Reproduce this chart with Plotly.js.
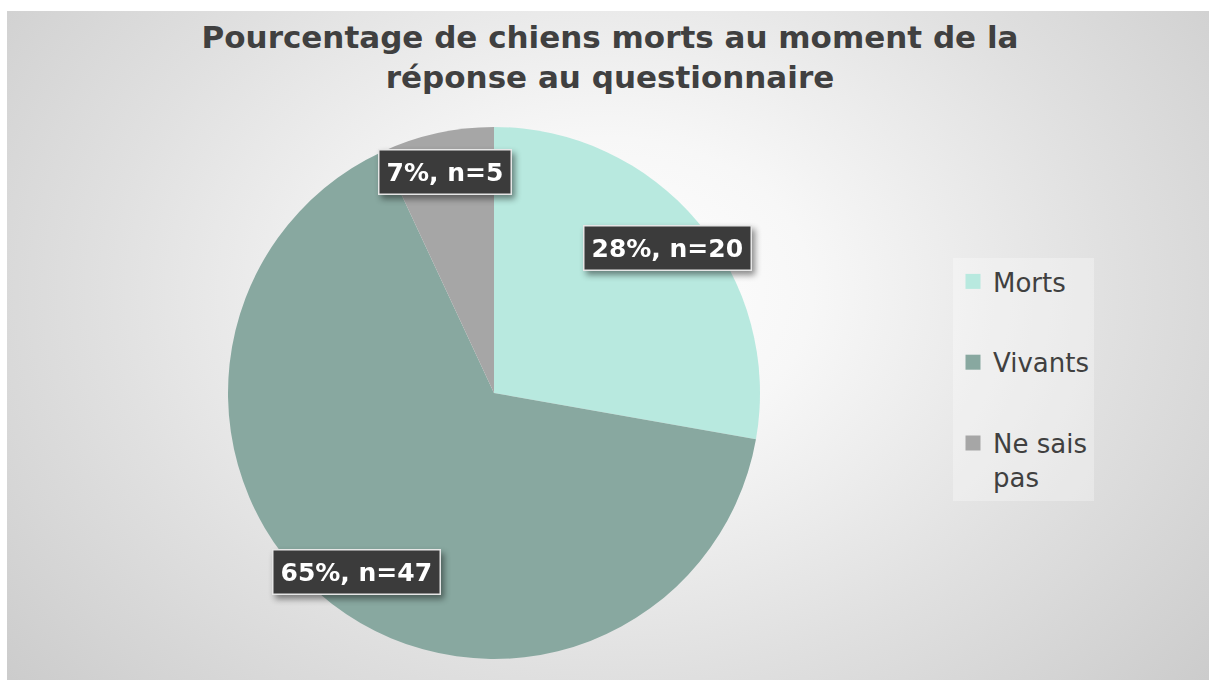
<!DOCTYPE html>
<html>
<head>
<meta charset="utf-8">
<script src="https://cdn.plot.ly/plotly-3.0.1.min.js"></script>
<style>
  html, body { margin: 0; padding: 0; background: #ffffff; }
  #bg { position: absolute; left: 7px; top: 11px; width: 1202px; height: 669px;
        background: radial-gradient(ellipse 68% 92% at 50% 42%, #ffffff 0%, #f7f7f7 25%, #e0e0e0 62%, #cacaca 100%); }
  #chart { position: absolute; left: 0; top: 0; width: 1209px; height: 680px; }
  .annotation-text-g { filter: drop-shadow(3px 4px 3px rgba(0,0,0,0.45)); }
</style>
</head>
<body>
<div id="bg"></div>
<div id="chart"></div>
<script>
const categories = ['Morts', 'Vivants', 'Ne sais pas'];
const legendLabels = ['Morts', 'Vivants', 'Ne sais<br>pas'];
const counts = [20, 47, 5];
const colors = ['#b8e9df', '#88a8a0', '#a6a6a6'];
const titleText = '<b>Pourcentage de chiens morts au moment de la<br>réponse au questionnaire</b>';

const total = counts.reduce((a, b) => a + b, 0);
const labelTexts = counts.map(c => '<b>' + Math.round(100 * c / total) + '%, n=' + c + '</b>');

const W = 1209, H = 680;
const pieDomain = { x: [228 / W, 760 / W], y: [21 / H, 553 / H] };

const traces = [{
  type: 'pie',
  labels: categories,
  values: counts,
  marker: { colors: colors, line: { width: 0 } },
  sort: false,
  direction: 'clockwise',
  rotation: 0,
  textinfo: 'none',
  hoverinfo: 'label+value+percent',
  showlegend: false,
  domain: pieDomain
}];

categories.forEach((cat, i) => {
  traces.push({
    type: 'scatter',
    mode: 'markers',
    x: [null], y: [null],
    name: legendLabels[i],
    legendgroup: 'g' + i,
    marker: { symbol: 'square', size: 15, color: colors[i] },
    showlegend: true,
    hoverinfo: 'skip'
  });
});

const layout = {
  width: W, height: H,
  margin: { l: 0, r: 0, t: 0, b: 0 },
  paper_bgcolor: 'rgba(0,0,0,0)',
  plot_bgcolor: 'rgba(0,0,0,0)',
  xaxis: { visible: false, fixedrange: true },
  yaxis: { visible: false, fixedrange: true },
  title: {
    text: titleText,
    font: { family: 'DejaVu Sans, Liberation Sans, Arial, sans-serif', size: 31, color: '#404040' },
    x: 610 / W, xanchor: 'center',
    y: 1 - 48 / H, yanchor: 'top', yref: 'paper'
  },
  showlegend: true,
  legend: {
    x: 953 / W, xanchor: 'left',
    y: 1 - 258 / H, yanchor: 'top',
    bgcolor: 'rgba(255,255,255,0.3)',
    borderwidth: 0,
    font: { family: 'DejaVu Sans, Liberation Sans, Arial, sans-serif', size: 26, color: '#404040' },
    tracegroupgap: 44,
    valign: 'top',
    itemclick: false, itemdoubleclick: false,
    entrywidth: 160, entrywidthmode: 'pixels'
  }
};

Plotly.newPlot('chart', traces, layout, { displayModeBar: false, staticPlot: true }).then(gd => {
  const fl = gd._fullLayout;
  const sz = fl._size;
  let cd0 = gd.calcdata && gd.calcdata[0] && gd.calcdata[0][0];
  let cx, cy, r;
  if (cd0 && cd0.cx !== undefined && cd0.r !== undefined) {
    cx = cd0.cx; cy = cd0.cy; r = cd0.r;
  } else {
    const dw = sz.w * (pieDomain.x[1] - pieDomain.x[0]);
    const dh = sz.h * (pieDomain.y[1] - pieDomain.y[0]);
    r = Math.min(dw, dh) / 2;
    cx = sz.l + sz.w * (pieDomain.x[0] + pieDomain.x[1]) / 2;
    cy = sz.t + sz.h * (1 - (pieDomain.y[0] + pieDomain.y[1]) / 2);
  }
  const k = 0.85;
  let cum = 0;
  const annotations = counts.map((c, i) => {
    const frac = (cum + c / 2) / total;
    cum += c;
    const th = 2 * Math.PI * frac;
    const px = cx + k * r * Math.sin(th);
    const py = cy - k * r * Math.cos(th);
    return {
      xref: 'paper', yref: 'paper',
      x: (px - sz.l) / sz.w, y: 1 - (py - sz.t) / sz.h,
      xanchor: 'center', yanchor: 'middle',
      text: labelTexts[i],
      showarrow: false,
      font: { family: 'DejaVu Sans, Liberation Sans, Arial, sans-serif', size: 25, color: '#ffffff' },
      bgcolor: '#3b3b3b',
      bordercolor: '#e6e6e6',
      borderwidth: 1.5,
      borderpad: 7
    };
  });
  return Plotly.relayout(gd, { annotations: annotations });
});
</script>
</body>
</html>
